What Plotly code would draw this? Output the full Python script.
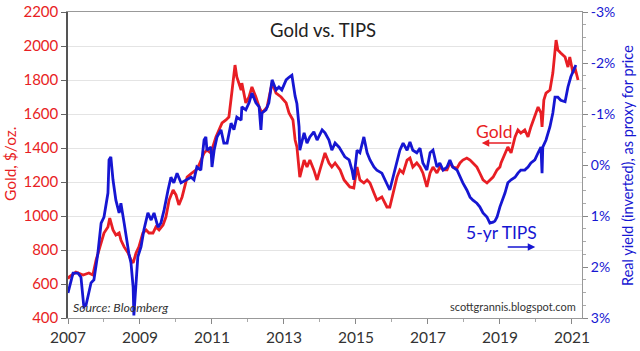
import plotly.graph_objects as go

# ---- data (decimal years) ----
gold_years = [2007.0, 2007.03, 2007.22, 2007.42, 2007.58, 2007.69, 2007.78, 2007.86, 2008.0, 2008.11,
              2008.16, 2008.25, 2008.33, 2008.42, 2008.47, 2008.56, 2008.67, 2008.75, 2008.81, 2008.89,
              2008.97, 2009.08, 2009.17, 2009.25, 2009.36, 2009.44, 2009.53, 2009.64, 2009.72, 2009.81,
              2009.92, 2010.0, 2010.03, 2010.08, 2010.17, 2010.31, 2010.44, 2010.56, 2010.64, 2010.78,
              2010.86, 2010.97, 2011.11, 2011.19, 2011.28, 2011.39, 2011.47, 2011.56, 2011.64, 2011.69,
              2011.81, 2011.83, 2011.94, 2012.03, 2012.11, 2012.22, 2012.31, 2012.39, 2012.53, 2012.67,
              2012.78, 2012.92, 2013.06, 2013.14, 2013.25, 2013.31, 2013.36, 2013.44, 2013.56, 2013.64,
              2013.72, 2013.83, 2013.92, 2014.0, 2014.14, 2014.25, 2014.33, 2014.42, 2014.56, 2014.67,
              2014.75, 2014.83, 2014.94, 2015.03, 2015.11, 2015.22, 2015.31, 2015.39, 2015.5, 2015.58,
              2015.72, 2015.86, 2015.94, 2016.03, 2016.14, 2016.22, 2016.31, 2016.42, 2016.5, 2016.58,
              2016.69, 2016.78, 2016.86, 2016.97, 2017.06, 2017.14, 2017.25, 2017.33, 2017.42, 2017.53,
              2017.61, 2017.69, 2017.81, 2017.89, 2017.97, 2018.08, 2018.17, 2018.25, 2018.36, 2018.44,
              2018.53, 2018.64, 2018.72, 2018.81, 2018.92, 2019.0, 2019.03, 2019.14, 2019.22, 2019.31,
              2019.42, 2019.5, 2019.58, 2019.69, 2019.78, 2019.86, 2019.97, 2020.06, 2020.14, 2020.17,
              2020.22, 2020.28, 2020.39, 2020.47, 2020.56, 2020.61, 2020.69, 2020.81, 2020.89, 2020.94,
              2021.03, 2021.08, 2021.17]
gold_price = [630, 641, 670, 653, 665, 653, 741, 800, 900, 935,
              988, 918, 888, 900, 859, 818, 782, 741, 724, 782,
              818, 900, 918, 900, 900, 935, 918, 947, 994, 1094,
              1153, 1124, 1094, 1065, 1112, 1229, 1253, 1271, 1300, 1371,
              1388, 1371, 1465, 1506, 1547, 1565, 1582, 1741, 1888, 1818,
              1741, 1782, 1665, 1700, 1759, 1700, 1641, 1606, 1641, 1782,
              1723, 1700, 1665, 1606, 1565, 1447, 1406, 1229, 1329, 1288,
              1329, 1271, 1212, 1271, 1371, 1312, 1288, 1312, 1271, 1212,
              1194, 1171, 1165, 1288, 1212, 1194, 1212, 1194, 1135, 1094,
              1112, 1053, 1053, 1135, 1229, 1271, 1253, 1329, 1341, 1288,
              1312, 1288, 1253, 1171, 1253, 1288, 1253, 1288, 1271, 1271,
              1312, 1288, 1282, 1312, 1329, 1341, 1329, 1312, 1288, 1253,
              1212, 1194, 1212, 1229, 1271, 1288, 1312, 1371, 1406, 1371,
              1465, 1506, 1488, 1506, 1465, 1524, 1582, 1641, 1606, 1524,
              1682, 1723, 1741, 1841, 2035, 1976, 1959, 1935, 1876, 1935,
              1841, 1876, 1800]

tips_years = [2007.0, 2007.14, 2007.28, 2007.36, 2007.44, 2007.5, 2007.64, 2007.72, 2007.83, 2007.92,
              2008.0, 2008.11, 2008.14, 2008.19, 2008.25, 2008.33, 2008.42, 2008.47, 2008.56, 2008.61,
              2008.69, 2008.75, 2008.81, 2008.83, 2008.89, 2008.94, 2009.03, 2009.11, 2009.22, 2009.31,
              2009.39, 2009.5, 2009.58, 2009.67, 2009.78, 2009.86, 2009.94, 2010.03, 2010.14, 2010.31,
              2010.42, 2010.5, 2010.58, 2010.69, 2010.78, 2010.83, 2010.86, 2010.97, 2011.0, 2011.06,
              2011.14, 2011.25, 2011.33, 2011.42, 2011.53, 2011.61, 2011.69, 2011.81, 2011.83, 2011.94,
              2012.03, 2012.11, 2012.22, 2012.31, 2012.36, 2012.39, 2012.5, 2012.58, 2012.67, 2012.78,
              2012.86, 2012.94, 2013.06, 2013.14, 2013.22, 2013.31, 2013.36, 2013.42, 2013.44, 2013.56,
              2013.64, 2013.72, 2013.83, 2013.92, 2014.06, 2014.14, 2014.25, 2014.33, 2014.42, 2014.53,
              2014.61, 2014.69, 2014.81, 2014.89, 2014.94, 2015.03, 2015.11, 2015.22, 2015.31, 2015.39,
              2015.5, 2015.58, 2015.72, 2015.81, 2015.92, 2015.94, 2016.03, 2016.14, 2016.22, 2016.31,
              2016.42, 2016.5, 2016.58, 2016.69, 2016.78, 2016.86, 2016.97, 2017.06, 2017.14, 2017.25,
              2017.33, 2017.42, 2017.53, 2017.61, 2017.69, 2017.81, 2017.89, 2017.97, 2018.08, 2018.17,
              2018.25, 2018.36, 2018.44, 2018.53, 2018.64, 2018.72, 2018.81, 2018.86, 2018.92, 2019.0,
              2019.14, 2019.22, 2019.31, 2019.42, 2019.5, 2019.58, 2019.69, 2019.78, 2019.86, 2019.97,
              2020.06, 2020.14, 2020.17, 2020.19, 2020.28, 2020.39, 2020.47, 2020.53, 2020.61, 2020.69,
              2020.81, 2020.89, 2020.97, 2021.08, 2021.11]
tips_yield = [2.51, 2.12, 2.12, 2.2, 2.78, 2.75, 2.31, 2.25, 1.73, 1.14,
              1.02, 0.55, -0.1, -0.16, 0.29, 0.69, 0.94, 0.75, 1.14, 1.41,
              1.73, 1.92, 2.4, 2.95, 2.31, 1.8, 1.6, 1.27, 0.94, 1.08,
              0.94, 1.22, 1.14, 0.88, 0.49, 0.24, 0.35, 0.16, 0.35, 0.29,
              0.24, 0.29, 0.04, 0.10, -0.49, -0.55, -0.29, -0.35, 0.04, -0.29,
              -0.55, -0.69, -0.43, -0.43, -0.82, -0.69, -0.94, -0.88, -1.14, -1.08,
              -1.22, -1.41, -1.22, -1.14, -0.69, -1.02, -1.08, -1.22, -1.67, -1.47,
              -1.53, -1.47, -1.67, -1.72, -1.76, -1.35, -1.2, -0.75, -0.29, -0.63,
              -0.43, -0.55, -0.65, -0.49, -0.69, -0.63, -0.49, -0.29, -0.43, -0.35,
              -0.24, -0.16, -0.10, 0.10, 0.29, -0.29, -0.24, -0.55, -0.24, -0.10,
              0.04, 0.10, 0.16, 0.29, 0.43, 0.49, 0.24, -0.04, -0.29, -0.43,
              -0.29, -0.45, -0.29, -0.24, -0.33, -0.04, 0.10, -0.24, -0.29, 0.04,
              -0.04, 0.10, 0.04, -0.10, 0.04, 0.10, 0.24, 0.35, 0.49, 0.63,
              0.69, 0.75, 0.82, 0.94, 1.02, 1.14, 1.12, 1.1, 1.02, 0.82,
              0.55, 0.35, 0.29, 0.24, 0.16, 0.10, 0.10, 0.04, -0.04, -0.10,
              -0.24, -0.35, 0.16, -0.35, -0.49, -0.75, -1.02, -1.33, -1.33, -1.27,
              -1.24, -1.53, -1.73, -1.92, -1.96]

x_tick_years = [2007, 2009, 2011, 2013, 2015, 2017, 2019, 2021]
gold_ticks = [400, 600, 800, 1000, 1200, 1400, 1600, 1800, 2000, 2200]
yield_ticks = [-3, -2, -1, 0, 1, 2, 3]
yield_labels = ["-3%", "-2%", "-1%", "0%", "1%", "2%", "3%"]

RED = "rgb(232,30,36)"
BLUE = "rgb(22,22,210)"
FONT = "Lato"

fig = go.Figure()
fig.add_trace(go.Scatter(x=gold_years, y=gold_price, mode="lines",
                         line=dict(color=RED, width=2.8), yaxis="y", showlegend=False))
fig.add_trace(go.Scatter(x=tips_years, y=tips_yield, mode="lines",
                         line=dict(color=BLUE, width=2.8), yaxis="y2", showlegend=False))

fig.update_layout(
    width=640, height=351,
    margin=dict(l=68, r=58, t=12, b=33, autoexpand=False),
    paper_bgcolor="white", plot_bgcolor="white",
    font=dict(family=FONT, color="#333"),
    xaxis=dict(range=[2007, 2021.28], tickvals=x_tick_years, ticktext=[str(v) for v in x_tick_years],
               ticks="outside", ticklen=5, tickcolor="#888", showgrid=False, automargin=False,
               showline=True, linecolor="#999", linewidth=1, mirror=True,
               tickfont=dict(size=15.5, color="#333", family=FONT), zeroline=False,
               minor=dict(dtick=1, tick0=2007, ticks="outside", ticklen=3, tickcolor="#aaa")),
    yaxis=dict(range=[400, 2200], tickvals=gold_ticks, ticks="outside", ticklen=5, tickcolor="#666",
               showgrid=True, gridcolor="#e4e4e4", gridwidth=1, automargin=False,
               showline=True, linecolor="#555", linewidth=1.5, zeroline=False,
               tickfont=dict(size=15, color=RED, family=FONT)),
    yaxis2=dict(range=[3, -3], overlaying="y", side="right", tickvals=yield_ticks, ticktext=yield_labels,
                ticks="outside", ticklen=5, tickcolor="#888", showgrid=False, zeroline=False,
                showline=True, linecolor="#999", linewidth=1, automargin=False,
                tickfont=dict(size=14, color=BLUE, family=FONT),
                minor=dict(dtick=0.25, ticks="outside", ticklen=3, tickcolor="#aaa")),
)

fig.add_annotation(text="Gold, $/oz.", xref="paper", yref="paper", x=-0.113, y=0.503, textangle=-90,
                   showarrow=False, font=dict(size=15.5, color=RED, family=FONT),
                   xanchor="center", yanchor="middle")
fig.add_annotation(text="Real yield (inverted), as proxy for price", xref="paper", yref="paper",
                   x=1.0875, y=0.50, textangle=-90,
                   showarrow=False, font=dict(size=14.5, color=BLUE, family=FONT),
                   xanchor="center", yanchor="middle")
fig.add_annotation(text="Gold vs. TIPS", xref="paper", yref="paper", x=0.496, y=0.941,
                   showarrow=False, font=dict(size=18.5, color="#222", family=FONT),
                   xanchor="center", yanchor="middle")
fig.add_annotation(text="Gold", xref="paper", yref="paper", x=0.829, y=0.611,
                   showarrow=False, font=dict(size=17.5, color=RED, family=FONT),
                   xanchor="center", yanchor="middle")
fig.add_annotation(text="", xref="paper", yref="paper", x=0.805, y=0.572, ax=31, ay=0,
                   showarrow=True, arrowhead=2, arrowsize=1, arrowwidth=1.5, arrowcolor=RED)
fig.add_annotation(text="5-yr TIPS", xref="paper", yref="paper", x=0.843, y=0.278,
                   showarrow=False, font=dict(size=17.5, color=BLUE, family=FONT),
                   xanchor="center", yanchor="middle")
fig.add_annotation(text="", xref="paper", yref="paper", x=0.909, y=0.232, ax=-29, ay=0,
                   showarrow=True, arrowhead=2, arrowsize=1, arrowwidth=1.5, arrowcolor=BLUE)
fig.add_annotation(text="<i>Source: Bloomberg</i>", xref="paper", yref="paper", x=0.006, y=0.035,
                   showarrow=False, font=dict(size=12.3, color="#333", family=FONT),
                   xanchor="left", yanchor="middle")
fig.add_annotation(text="scottgrannis.blogspot.com", xref="paper", yref="paper", x=0.992, y=0.037,
                   showarrow=False, font=dict(size=11, color="#333", family=FONT),
                   xanchor="right", yanchor="middle")

fig.write_html("out.html")
